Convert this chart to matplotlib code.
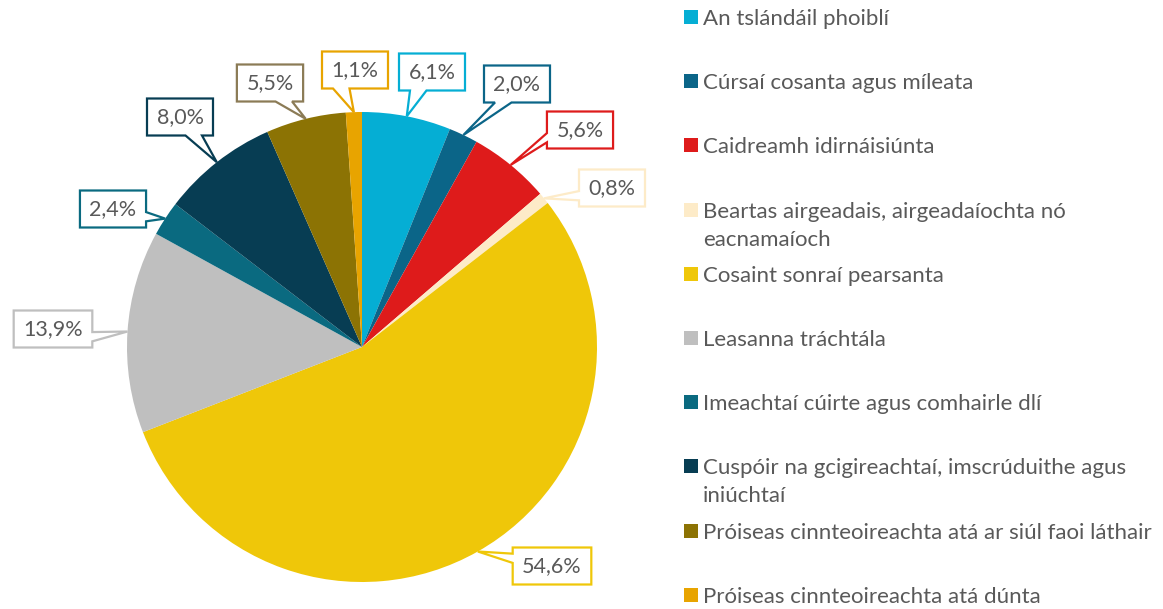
"""
pie chart with callout labels
"""

import matplotlib.pyplot as plt
from matplotlib.patches import Polygon, Rectangle
import numpy as np

plt.rcParams["font.family"] = ["Lato", "DejaVu Sans"]

categories = [
    "An tslándáil phoiblí",
    "Cúrsaí cosanta agus míleata",
    "Caidreamh idirnáisiúnta",
    "Beartas airgeadais, airgeadaíochta nó\neacnamaíoch",
    "Cosaint sonraí pearsanta",
    "Leasanna tráchtála",
    "Imeachtaí cúirte agus comhairle dlí",
    "Cuspóir na gcigireachtaí, imscrúduithe agus\niniúchtaí",
    "Próiseas cinnteoireachta atá ar siúl faoi láthair",
    "Próiseas cinnteoireachta atá dúnta",
]
values = [6.1, 2.0, 5.6, 0.8, 54.6, 13.9, 2.4, 8.0, 5.5, 1.1]
value_labels = ["6,1%", "2,0%", "5,6%", "0,8%", "54,6%", "13,9%", "2,4%", "8,0%", "5,5%", "1,1%"]
colors = ["#05AED4", "#0B6588", "#DE1B1B", "#FDEBC8", "#EFC709",
          "#BFBFBF", "#0A6A80", "#073D53", "#8C7304", "#E8A400"]
box_edges = ["#05AED4", "#0B6588", "#DE1B1B", "#FDEBC8", "#EFC709",
             "#BFBFBF", "#0A6A80", "#073D53", "#8B7B56", "#E8A400"]

# label box centres, pixel coords (y down)
label_pos = [(432, 72), (517, 84), (580, 130), (612, 188), (552, 566),
             (53, 329), (113, 209), (180, 117), (270, 83), (355, 70)]

W, H = 1163, 609
CX, CY, R = 362, 347, 235
TEXT = "#595959"


def callout(ax, cx, cy, w, h, tx, ty, color):
    x0, x1 = cx - w / 2, cx + w / 2
    y0, y1 = cy - h / 2, cy + h / 2
    dx, dy = tx - cx, ty - cy
    if abs(dx) / w > abs(dy) / h:
        if dy < 0:
            b1, b2 = y0 + h * 2 / 12, y0 + h * 5 / 12
        else:
            b1, b2 = y0 + h * 7 / 12, y0 + h * 10 / 12
        if dx > 0:
            pts = [(x0, y0), (x1, y0), (x1, b1), (tx, ty), (x1, b2), (x1, y1), (x0, y1)]
        else:
            pts = [(x0, y0), (x1, y0), (x1, y1), (x0, y1), (x0, b2), (tx, ty), (x0, b1)]
    else:
        if dx < 0:
            b1, b2 = x0 + w * 2 / 12, x0 + w * 5 / 12
        else:
            b1, b2 = x0 + w * 7 / 12, x0 + w * 10 / 12
        if dy < 0:
            pts = [(x0, y0), (b1, y0), (tx, ty), (b2, y0), (x1, y0), (x1, y1), (x0, y1)]
        else:
            pts = [(x0, y0), (x1, y0), (x1, y1), (b2, y1), (tx, ty), (b1, y1), (x0, y1)]
    ax.add_patch(Polygon(pts, closed=True, facecolor="white", edgecolor=color,
                         linewidth=1.6, joinstyle="miter", zorder=3))


fig = plt.figure(figsize=(W / 100, H / 100), dpi=100)
ax = fig.add_axes([0, 0, 1, 1])

wedges, _ = ax.pie(values, colors=colors, startangle=-90, counterclock=True,
                   center=(CX, CY), radius=R, wedgeprops=dict(linewidth=0))
ax.set_xlim(0, W)
ax.set_ylim(H, 0)
ax.set_aspect("equal")
ax.axis("off")

fig.canvas.draw()
renderer = fig.canvas.get_renderer()

for wdg, lab, (lx, ly), ec in zip(wedges, value_labels, label_pos, box_edges):
    mid = np.deg2rad((wdg.theta1 + wdg.theta2) / 2)
    tx, ty = CX + R * np.cos(mid), CY + R * np.sin(mid)
    t = ax.text(lx, ly, lab, ha="center", va="center", fontsize=15.5,
                color=TEXT, zorder=4)
    tw = t.get_window_extent(renderer).width
    callout(ax, lx, ly, tw + 19, 37, tx, ty, ec)

# legend
for i, (cat, col) in enumerate(zip(categories, colors)):
    y = 17 + i * 64.2
    ax.add_patch(Rectangle((684, y - 7), 14, 14, facecolor=col, edgecolor="none"))
    for j, line in enumerate(cat.split("\n")):
        ax.text(703, y + j * 28, line, ha="left", va="center_baseline",
                fontsize=16, color=TEXT)

fig.savefig("out.png", dpi=100)
